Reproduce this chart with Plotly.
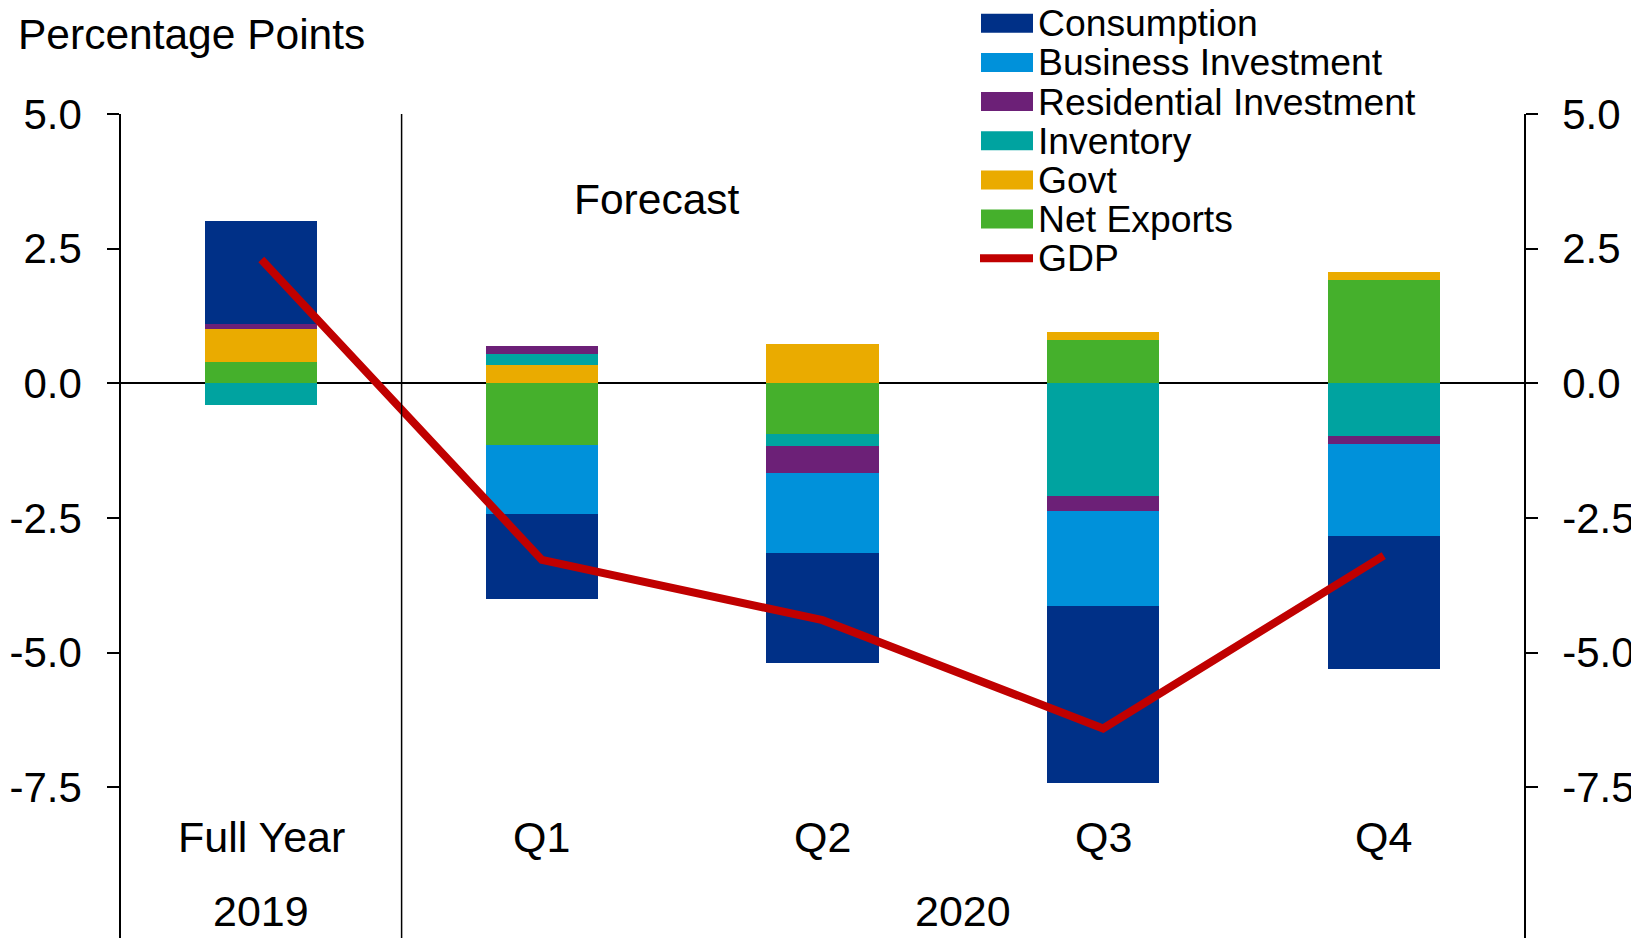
import plotly.graph_objects as go

# ---------------- data ----------------
categories = ["Full Year", "Q1", "Q2", "Q3", "Q4"]
years = ["2019", "2020"]
consumption = [1.92, -1.57, -2.04, -3.29, -2.48]
business_inv = [0.0, -1.28, -1.49, -1.75, -1.70]
residential_inv = [0.09, 0.15, -0.50, -0.28, -0.15]
inventory = [-0.40, 0.21, -0.23, -2.10, -0.98]
govt = [0.61, 0.34, 0.72, 0.15, 0.14]
net_exports = [0.40, -1.15, -0.94, 0.80, 1.92]
gdp = [2.30, -3.28, -4.40, -6.41, -3.20]
tick_vals = [5.0, 2.5, 0.0, -2.5, -5.0, -7.5]

# ---------------- geometry (viewport px; page body has 8px margin) ----------------
OFF = 8
VW, VH = 1639, 938
W, H = VW - OFF, VH - OFF
AX_L, AX_R, AX_T = 121, 1524, 114          # viewport px of plot edges
ML, MR, MT, MB = AX_L - OFF, VW - AX_R, AX_T - OFF, 0
PW, PH = W - ML - MR, H - MT - MB
Y_TOP = 5.0
Y_BOT = 5.0 - PH / 53.85

def px_x(px):
    return (px - AX_L) / PW

def px_y(py):
    return 1 - (py - AX_T) / PH

FONT = "Liberation Sans, Arial, sans-serif"
x = list(range(len(categories)))

colors = {
    "Consumption": "#003087",
    "Business Investment": "#0091DA",
    "Residential Investment": "#6C2077",
    "Inventory": "#00A3A0",
    "Govt": "#EAAB00",
    "Net Exports": "#45B02C",
    "GDP": "#C00000",
}

# stacking order (closest to zero first)
stack = [
    ("Net Exports", net_exports),
    ("Govt", govt),
    ("Inventory", inventory),
    ("Residential Investment", residential_inv),
    ("Business Investment", business_inv),
    ("Consumption", consumption),
]

fig = go.Figure()
for name, vals in stack:
    fig.add_trace(go.Bar(
        x=x, y=vals, name=name, width=0.4,
        marker=dict(color=colors[name], line=dict(width=0)),
        showlegend=False,
    ))

fig.add_trace(go.Scatter(
    x=x, y=gdp, name="GDP", mode="lines", yaxis="y2",
    line=dict(color=colors["GDP"], width=8),
    showlegend=False,
))

tick_text = [f"{v:.1f}" for v in tick_vals]
yax = dict(
    range=[Y_BOT, Y_TOP], tickvals=tick_vals, ticktext=tick_text,
    ticks="outside", ticklen=12, tickwidth=1.5, tickcolor="black",
    showline=True, linecolor="black", linewidth=1.5,
    showgrid=False, zeroline=False,
    tickfont=dict(family=FONT, size=42, color="black"),
    fixedrange=True,
)
fig.update_layout(
    width=W, height=H,
    margin=dict(l=ML, r=MR, t=MT, b=MB, pad=0),
    paper_bgcolor="white", plot_bgcolor="white",
    barmode="relative", bargap=0,
    showlegend=False,
    xaxis=dict(range=[-0.5, len(categories) - 0.5], showticklabels=False,
               showline=False, showgrid=False, zeroline=False, ticks=""),
    yaxis=dict(**yax, side="left", ticklabelstandoff=17),
    yaxis2=dict(**{**yax, "zeroline": True, "zerolinecolor": "black",
                   "zerolinewidth": 1.5},
                side="right", overlaying="y", ticklabelstandoff=16),
    font=dict(family=FONT, color="black"),
)

# divider between 2019 and 2020
fig.add_shape(type="line", xref="x", yref="paper", x0=0.5, x1=0.5, y0=0, y1=1,
              line=dict(color="black", width=1.5))

# category labels and years
CAT_FONT = dict(size=43, family=FONT, color="black")
for i, c in enumerate(categories):
    fig.add_annotation(x=i, y=px_y(837), xref="x", yref="paper", text=c,
                       showarrow=False, font=CAT_FONT,
                       xanchor="center", yanchor="middle")
fig.add_annotation(x=0, y=px_y(911), xref="x", yref="paper", text=years[0],
                   showarrow=False, font=CAT_FONT,
                   xanchor="center", yanchor="middle")
fig.add_annotation(x=(1 + len(categories) - 1) / 2, y=px_y(911), xref="x", yref="paper",
                   text=years[1], showarrow=False, font=CAT_FONT,
                   xanchor="center", yanchor="middle")

# title and forecast label
fig.add_annotation(x=px_x(16), y=px_y(34), xref="paper", yref="paper",
                   text="Percentage Points", showarrow=False,
                   font=dict(size=42.5, family=FONT, color="black"),
                   xanchor="left", yanchor="middle")
fig.add_annotation(x=1.41, y=px_y(199), xref="x", yref="paper", text="Forecast",
                   showarrow=False, font=dict(size=42.5, family=FONT, color="black"),
                   xanchor="center", yanchor="middle")

# custom legend
legend_names = ["Consumption", "Business Investment", "Residential Investment",
                "Inventory", "Govt", "Net Exports", "GDP"]
row0, step = 23.3, 39.15
for k, name in enumerate(legend_names):
    cy = row0 + k * step
    if name == "GDP":
        fig.add_shape(type="line", xref="paper", yref="paper",
                      x0=px_x(980), x1=px_x(1033), y0=px_y(cy), y1=px_y(cy),
                      line=dict(color=colors[name], width=8))
    else:
        fig.add_shape(type="rect", xref="paper", yref="paper",
                      x0=px_x(981), x1=px_x(1033), y0=px_y(cy - 9.5), y1=px_y(cy + 9.5),
                      fillcolor=colors[name], line=dict(width=0))
    fig.add_annotation(x=px_x(1036), y=px_y(cy), xref="paper", yref="paper",
                       text=name, showarrow=False,
                       font=dict(size=37.3, family=FONT, color="black"),
                       xanchor="left", yanchor="middle")

fig.write_html("out.html")
